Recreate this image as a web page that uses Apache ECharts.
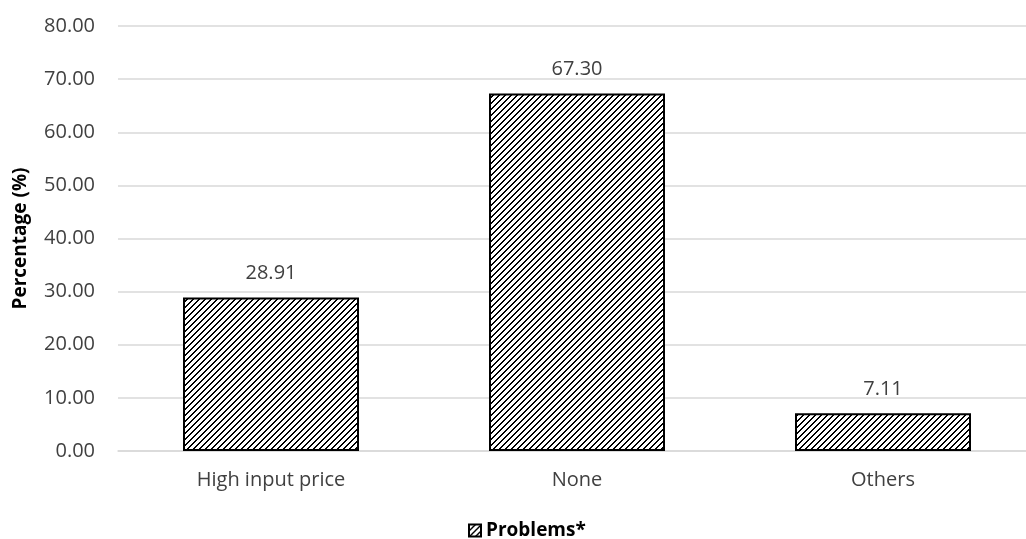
<!DOCTYPE html>
<html>
<head>
<meta charset="utf-8">
<script src="https://cdn.jsdelivr.net/npm/echarts@6/dist/echarts.min.js"></script>
<style>
html,body{margin:0;padding:0;background:#fff;overflow:hidden;width:1026px;height:539px;}
#chart{width:1036px;height:539px;}
</style>
</head>
<body>
<div id="chart"></div>
<script>
const categories = ['High input price', 'None', 'Others'];
const values = [28.91, 67.30, 7.11];
const seriesName = 'Problems*';
const yTicks = { min: 0, max: 80, interval: 10 };

function makePattern() {
  const c = document.createElement('canvas');
  const n = 6;
  c.width = n; c.height = n;
  const ctx = c.getContext('2d');
  ctx.fillStyle = '#ffffff';
  ctx.fillRect(0, 0, n, n);
  ctx.fillStyle = '#000000';
  for (let y = 0; y < n; y++) {
    const x = (n - 1 - y);
    ctx.fillRect(x, y, 1, 1);
    ctx.fillRect((x + 1) % n, y, 1, 1);
  }
  return c;
}
const pattern = { image: makePattern(), repeat: 'repeat' };

const chart = echarts.init(document.getElementById('chart'), null, { renderer: 'canvas' });
const font = '"Open Sans", Lato, sans-serif';
chart.setOption({
  animation: false,
  backgroundColor: '#ffffff',
  textStyle: { fontFamily: font },
  grid: { left: 118, top: 26, right: 0, height: 425, containLabel: false, outerBoundsMode: 'none' },
  legend: {
    top: 516,
    left: 463,
    itemWidth: 12,
    itemHeight: 12,
    itemGap: 6,
    icon: 'rect',
    textStyle: { fontSize: 19, color: '#000', fontFamily: font, fontWeight: 'bold' },
    data: [seriesName]
  },
  xAxis: {
    type: 'category',
    data: categories,
    axisLine: { lineStyle: { color: '#d9d9d9', width: 1.5 } },
    axisTick: { show: false },
    axisLabel: { color: '#404040', fontSize: 20, margin: 19, fontFamily: font }
  },
  yAxis: {
    type: 'value',
    min: yTicks.min, max: yTicks.max, interval: yTicks.interval,
    name: 'Percentage (%)',
    nameLocation: 'middle',
    nameRotate: 90,
    nameGap: 88,
    nameTextStyle: { fontSize: 19, color: '#000', fontWeight: 'bold', fontFamily: font },
    axisLine: { show: false },
    axisTick: { show: false },
    splitLine: { lineStyle: { color: '#d9d9d9', width: 1.5 } },
    axisLabel: {
      color: '#404040', fontSize: 20, margin: 23, fontFamily: font,
      formatter: v => v.toFixed(2)
    }
  },
  series: [{
    name: seriesName,
    type: 'bar',
    data: values,
    barWidth: 176,
    itemStyle: { color: pattern, borderColor: '#000', borderWidth: 2 },
    label: {
      show: true, position: 'top', distance: 14,
      color: '#404040', fontSize: 20, fontFamily: font,
      formatter: p => p.value.toFixed(2)
    }
  }]
});
</script>
</body>
</html>
